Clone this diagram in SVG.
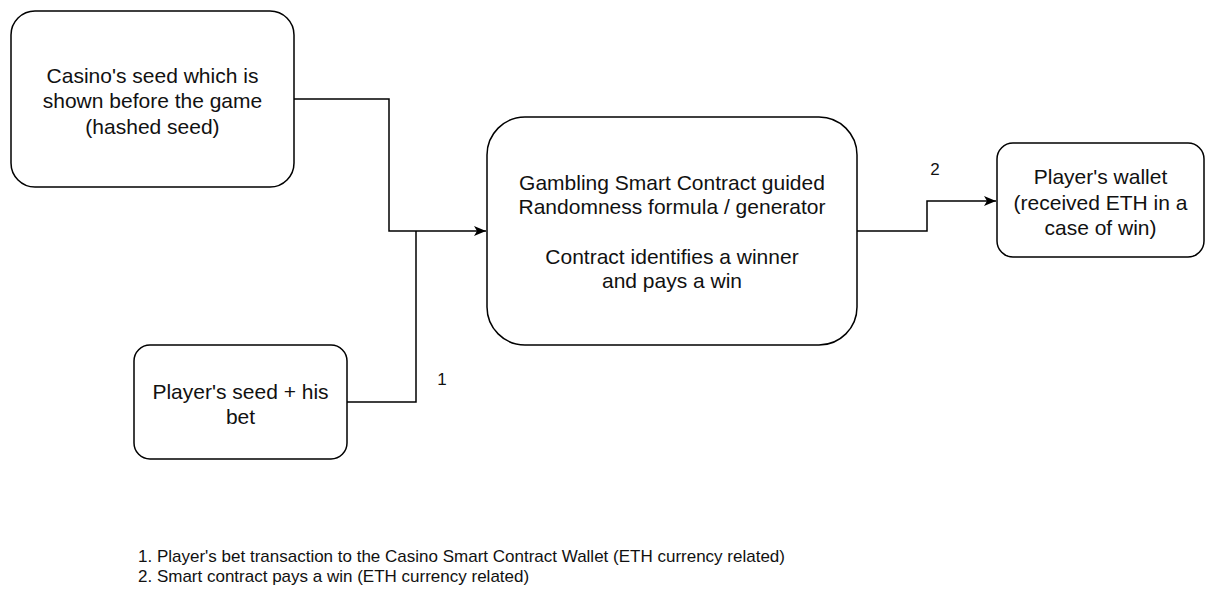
<svg xmlns="http://www.w3.org/2000/svg" width="1206" height="591" viewBox="0 0 1206 591">
<defs>
<style>
.box{fill:#fff;stroke:#000;stroke-width:1.5}
.t{font-family:"Liberation Sans",Arial,sans-serif;font-size:21px;fill:#111;text-anchor:middle}
.lbl{font-family:"Liberation Sans",Arial,sans-serif;font-size:17px;fill:#111}
.leg{font-family:"Liberation Sans",Arial,sans-serif;font-size:17px;fill:#111}
.edge{fill:none;stroke:#000;stroke-width:1.5}
</style>
<marker id="arr" viewBox="0 0 12 10" refX="12" refY="5" markerWidth="12" markerHeight="10" markerUnits="userSpaceOnUse" orient="auto">
<path d="M0,0 L12,5 L0,10 L3,5 Z" fill="#000"/>
</marker>
</defs>
<rect width="1206" height="591" fill="#fff"/>
<g id="connectors">
<path class="edge" d="M294,99 H389 V231 H486" marker-end="url(#arr)"/>
<path class="edge" d="M347,402 H416 V231"/>
<path class="edge" d="M857,231 H927 V201 H996" marker-end="url(#arr)"/>
<text class="lbl" x="442" y="385" text-anchor="middle">1</text>
<text class="lbl" x="935" y="175" text-anchor="middle">2</text>
</g>
<g id="casino-seed">
<rect class="box" x="11" y="11" width="283" height="176" rx="24" ry="24"/>
<text class="t" x="152.5" y="83">Casino's seed which is</text>
<text class="t" x="152.5" y="108">shown before the game</text>
<text class="t" x="152.5" y="134">(hashed seed)</text>
</g>
<g id="player-seed">
<rect class="box" x="134" y="345" width="213" height="114" rx="16" ry="16"/>
<text class="t" x="240.5" y="399">Player's seed + his</text>
<text class="t" x="240.5" y="424">bet</text>
</g>
<g id="contract">
<rect class="box" x="487" y="117" width="370" height="228" rx="38" ry="38"/>
<text class="t" x="672" y="190">Gambling Smart Contract guided</text>
<text class="t" x="672" y="214">Randomness formula / generator</text>
<text class="t" x="672" y="264">Contract identifies a winner</text>
<text class="t" x="672" y="288">and pays a win</text>
</g>
<g id="wallet">
<rect class="box" x="997" y="143" width="207" height="114" rx="16" ry="16"/>
<text class="t" x="1100.5" y="184">Player's wallet</text>
<text class="t" x="1100.5" y="210">(received ETH in a</text>
<text class="t" x="1100.5" y="235">case of win)</text>
</g>
<g id="legend">
<text class="leg" x="138" y="562">1. Player's bet transaction to the Casino Smart Contract Wallet (ETH currency related)</text>
<text class="leg" x="138" y="582">2. Smart contract pays a win (ETH currency related)</text>
</g>
</svg>
